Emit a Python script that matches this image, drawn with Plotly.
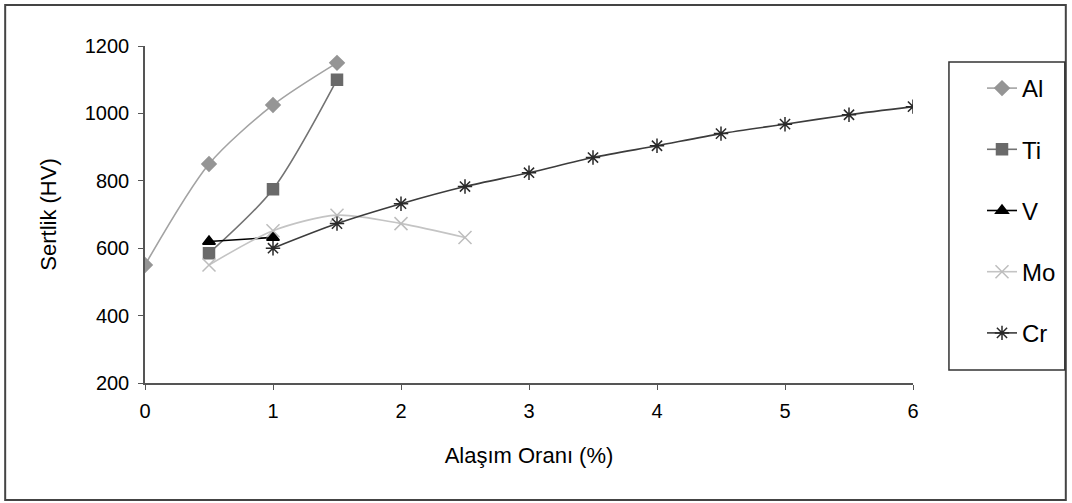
import plotly.graph_objects as go

al_x = [0, 0.5, 1, 1.5]
al_y = [550, 850, 1025, 1150]
ti_x = [0.5, 1, 1.5]
ti_y = [585, 775, 1100]
v_x = [0.5, 1]
v_y = [620, 632]
mo_x = [0.5, 1, 1.5, 2, 2.5]
mo_y = [550, 652, 698, 673, 632]
cr_x = [1, 1.5, 2, 2.5, 3, 3.5, 4, 4.5, 5, 5.5, 6]
cr_y = [600, 673, 732, 783, 824, 869, 904, 940, 968, 996, 1020]

x_ticks = [0, 1, 2, 3, 4, 5, 6]
y_ticks = [200, 400, 600, 800, 1000, 1200]

W, H = 1072, 503
L, R, T, B = 145, 914, 46, 383

def px(x):
    return (x - L) / (R - L)

def py(y):
    return (B - y) / (B - T)

fig = go.Figure()
series = [
    ("Al", al_x, al_y, "#a3a3a3", "#959595", "diamond", 11),
    ("Ti", ti_x, ti_y, "#737373", "#6a6a6a", "square", 11),
    ("V", v_x, v_y, "#000000", "#000000", "triangle-up", 11),
    ("Mo", mo_x, mo_y, "#c4c4c4", "#bdbdbd", "x-thin-open", 13),
    ("Cr", cr_x, cr_y, "#3c3c3c", "#2a2a2a", "asterisk-open", 12),
]
for name, xs, ys, lc, mc, sym, sz in series:
    fig.add_trace(go.Scatter(
        x=xs, y=ys, name=name, mode="lines+markers",
        line=dict(color=lc, width=1.6, shape="spline", smoothing=0.8),
        marker=dict(symbol=sym, size=sz, color=mc, line=dict(color=mc, width=1.5)),
        legendgroup=name,
    ))

fig.update_layout(
    width=W, height=H, autosize=False,
    margin=dict(l=L, r=W - R, t=T, b=H - B),
    paper_bgcolor="white", plot_bgcolor="white",
    font=dict(family="Liberation Sans, Arial, sans-serif", color="#000000", size=20),
    xaxis=dict(
        range=[0, 6], tickvals=x_ticks, showgrid=False, zeroline=False,
        showline=True, linecolor="#555555", linewidth=1.5,
        ticks="outside", ticklen=5, tickcolor="#555555",
        tickfont=dict(size=20), ticklabelstandoff=4,
        title=dict(text="Alaşım Oranı (%)", font=dict(size=22), standoff=27),
    ),
    yaxis=dict(
        range=[200, 1200], tickvals=y_ticks, showgrid=False, zeroline=False,
        showline=True, linecolor="#555555", linewidth=1.5,
        ticks="outside", ticklen=5, tickcolor="#555555",
        tickfont=dict(size=20), ticklabelstandoff=5,
        title=dict(text="Sertlik (HV)", font=dict(size=22), standoff=22),
    ),
    legend=dict(
        x=px(982), y=py(66), xanchor="left", yanchor="top",
        font=dict(size=24), bgcolor="rgba(0,0,0,0)", borderwidth=0,
        tracegroupgap=27,
    ),
    shapes=[
        dict(type="rect", xref="paper", yref="paper",
             x0=px(5), x1=px(1067), y0=py(500), y1=py(5),
             line=dict(color="#444444", width=2), layer="below"),
        dict(type="rect", xref="paper", yref="paper",
             x0=px(950), x1=px(1066), y0=py(370), y1=py(62),
             line=dict(color="#333333", width=1.5), layer="below"),
    ],
)

fig.write_html("out.html")
